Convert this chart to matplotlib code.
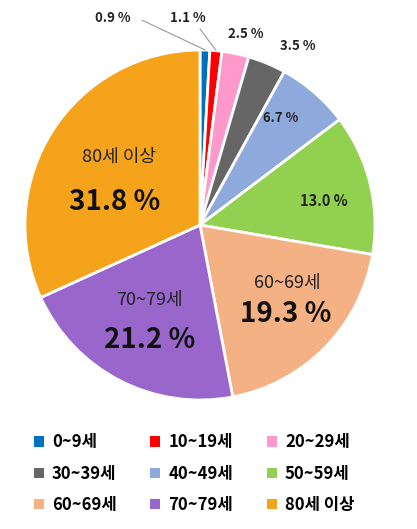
import matplotlib
matplotlib.use("Agg")
import matplotlib.pyplot as plt
from matplotlib.patches import Patch

plt.rcParams['font.family'] = ['Noto Sans CJK KR', 'DejaVu Sans']

categories = ['0~9세', '10~19세', '20~29세', '30~39세', '40~49세', '50~59세', '60~69세', '70~79세', '80세 이상']
values = [0.9, 1.1, 2.5, 3.5, 6.7, 13.0, 19.3, 21.2, 31.8]
colors = ['#0070C0', '#FF0000', '#FF99CC', '#666666', '#8EA9DB', '#92D050', '#F4B183', '#9966CC', '#F5A31A']

fig = plt.figure(figsize=(4.17, 5.29), dpi=100)
ax = fig.add_axes([25/417, 129/529, 350/417, 350/529])
ax.pie(values, colors=colors, startangle=90, counterclock=False,
       wedgeprops=dict(edgecolor='white', linewidth=2))
ax.set_xlim(-1, 1); ax.set_ylim(-1, 1)
ax.set_aspect('equal')

small = dict(fontsize=9.5, fontweight='bold', ha='center', va='center', color='#222222')
ax.text(-0.50, 1.18, '0.9 %', **small)
ax.text(-0.07, 1.18, '1.1 %', **small)
ax.plot([0.09, 0.0], [1.0, 1.12], color='#999999', lw=0.8, clip_on=False)
ax.plot([0.03, -0.33], [1.0, 1.17], color='#999999', lw=0.8, clip_on=False)
ax.text(0.26, 1.09, '2.5 %', **small)
ax.text(0.56, 1.02, '3.5 %', **small)
ax.text(0.46, 0.61, '6.7 %', **small)
ax.text(0.71, 0.14, '13.0 %', fontsize=10.5, fontweight='bold', ha='center', va='center', color='#222222')

name = dict(fontsize=13, ha='center', va='center', color='#222222')
big = dict(fontsize=20, fontweight='bold', ha='center', va='center', color='#111111')
ax.text(0.50, -0.33, '60~69세', **name)
ax.text(0.49, -0.51, '19.3 %', **big)
ax.text(-0.29, -0.43, '70~79세', **name)
ax.text(-0.29, -0.66, '21.2 %', **big)
ax.text(-0.46, 0.39, '80세 이상', **name)
ax.text(-0.49, 0.13, '31.8 %', **big)

handles = [Patch(facecolor=c, edgecolor='none') for c in colors]
order = [0, 3, 6, 1, 4, 7, 2, 5, 8]
fig.legend([handles[i] for i in order], [categories[i] for i in order],
           loc='lower left', bbox_to_anchor=(0.045, 0.0), ncol=3,
           frameon=False, prop=dict(size=12, weight='bold'), handlelength=0.6, handleheight=0.6,
           columnspacing=2.0, labelspacing=0.8, handletextpad=0.5)
fig.savefig('out.png', dpi=100)
